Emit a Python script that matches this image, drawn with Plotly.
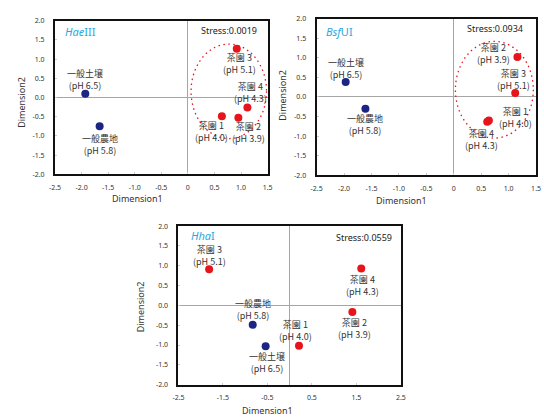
import plotly.graph_objects as go

# ---- data: NMDS coordinates per restriction enzyme ----
sites = ["茶園 1", "茶園 2", "茶園 3", "茶園 4", "一般土壌", "一般農地"]
site_ph = ["4.0", "3.9", "5.1", "4.3", "6.5", "5.8"]
is_tea = [True, True, True, True, False, False]

hae_x = [0.64, 0.95, 0.92, 1.12, -1.93, -1.66]
hae_y = [-0.49, -0.53, 1.27, -0.26, 0.10, -0.75]
hae_stress = "0.0019"
hae_ellipse = [0.06, 1.48, -1.07, 1.39]   # x0, x1, y0, y1

bsf_x = [0.64, 1.16, 1.12, 0.61, -1.97, -1.61]
bsf_y = [-0.60, 1.02, 0.10, -0.63, 0.38, -0.30]
bsf_stress = "0.0934"
bsf_ellipse = [0.03, 1.45, -1.05, 1.42]

hha_x = [0.21, 1.41, -1.81, 1.61, -0.54, -0.83]
hha_y = [-1.02, -0.17, 0.91, 0.93, -1.03, -0.49]
hha_stress = "0.0559"

y_ticks = [2.0, 1.5, 1.0, 0.5, 0.0, -0.5, -1.0, -1.5, -2.0]
y_ticktext = ["2.0", "1.5", "1.0", "0.5", "0.0", "-0.5", "-1.0", "-1.5", "-2.0"]
x_ticks_a = [-2.5, -2.0, -1.5, -1.0, -0.5, 0.0, 0.5, 1.0, 1.5]
x_ticktext_a = ["-2.5", "-2.0", "-1.5", "-1.0", "-0.5", "0", "0.5", "1.0", "1.5"]
x_ticks_b = [-2.5, -1.5, -0.5, 0.5, 1.5, 2.5]
x_ticktext_b = ["-2.5", "-1.5", "-0.5", "0.5", "1.5", "2.5"]

# ---- styling ----
RED = "#e8141c"
NAVY = "#1c2583"
BLUE_TITLE = "#2aa7e0"
TXT = "#333333"
JP_FONT = "Noto Sans CJK JP"

# label centre offset per site, in px from the marker: (dx, dy screen-down positive)
hae_lbl = [(-10, 15), (10, 15), (3, 14.5), (3, -14.5), (0, -14), (0, 18)]
bsf_lbl = [(27, -3), (-24, -3.5), (-2, -14), (-6, 18), (0, -14), (0, 16)]
hha_lbl = [(-3, -15.5), (2, 16), (0, -14), (1, 16.5), (1, 16), (0, -15)]

panels = [
    dict(name="<i>Hae</i>III", xs=hae_x, ys=hae_y, stress=hae_stress, ell=hae_ellipse,
         lbl=hae_lbl, xr=[-2.5, 1.5], xt=x_ticks_a, xtt=x_ticktext_a,
         dx=[50 / 544, 267 / 544], dy=[1 - 173 / 418, 1 - 16 / 418],
         tpos=(0.037, 0.93), spos=(0.958, 0.936), x1pos=(0.387, -0.16), y2pos=(-0.161, 0.47)),
    dict(name="<i>Bsf</i>UI", xs=bsf_x, ys=bsf_y, stress=bsf_stress, ell=bsf_ellipse,
         lbl=bsf_lbl, xr=[-2.5, 1.5], xt=x_ticks_a, xtt=x_ticktext_a,
         dx=[317 / 544, 541 / 544], dy=[1 - 174 / 418, 1 - 14 / 418],
         tpos=(0.036, 0.92), spos=(0.951, 0.94), x1pos=(0.388, -0.163), y2pos=(-0.156, 0.51)),
    dict(name="<i>Hha</i>I", xs=hha_x, ys=hha_y, stress=hha_stress, ell=None,
         lbl=hha_lbl, xr=[-2.5, 2.5], xt=x_ticks_b, xtt=x_ticktext_b,
         dx=[176 / 544, 403 / 544], dy=[1 - 388 / 418, 1 - 226 / 418],
         tpos=(0.048, 0.942), spos=(0.969, 0.93), x1pos=(0.40, -0.165), y2pos=(-0.167, 0.49)),
]

fig = go.Figure()
annotations = []
shapes = []
layout_axes = {}

for i, p in enumerate(panels):
    n = "" if i == 0 else str(i + 1)
    xa, ya = "x" + n, "y" + n
    colors = [RED if t else NAVY for t in is_tea]
    fig.add_trace(go.Scatter(
        x=p["xs"], y=p["ys"], mode="markers", xaxis=xa, yaxis=ya,
        marker=dict(size=8, color=colors, line=dict(width=0)),
        hoverinfo="skip", showlegend=False,
    ))
    axis_common = dict(
        showline=True, linecolor="#111111", linewidth=2, mirror=True,
        showgrid=False, zeroline=True, zerolinecolor="#a6a6a6", zerolinewidth=1.3,
        ticks="inside", ticklen=2, tickcolor="#cccccc", tickwidth=1,
        tickfont=dict(family="Noto Sans", size=7, color=TXT),
        fixedrange=True,
    )
    layout_axes["xaxis" + n] = dict(axis_common, domain=p["dx"], range=p["xr"],
                                    tickvals=p["xt"], ticktext=p["xtt"], anchor=ya,
                                    ticklabelstandoff=5)
    layout_axes["yaxis" + n] = dict(axis_common, domain=p["dy"], range=[-2.0, 2.0],
                                    tickvals=y_ticks, ticktext=y_ticktext, anchor=xa,
                                    ticklabelstandoff=7)

    # site labels: name with the pH beneath it
    for s, ph, x, y, (ox, oy) in zip(sites, site_ph, p["xs"], p["ys"], p["lbl"]):
        annotations.append(dict(
            x=x, y=y, xref=xa, yref=ya, text=f"{s}<br>(pH {ph})", showarrow=False,
            xanchor="center", yanchor="middle", xshift=ox, yshift=-oy,
            borderpad=0, align="center",
            font=dict(family=JP_FONT, size=9, color=TXT),
        ))
    # enzyme name and stress
    annotations.append(dict(
        x=p["tpos"][0], y=p["tpos"][1], xref=xa + " domain", yref=ya + " domain",
        text=p["name"], showarrow=False, xanchor="left", yanchor="middle",
        font=dict(family="Noto Sans", size=11, color=BLUE_TITLE),
    ))
    annotations.append(dict(
        x=p["spos"][0], y=p["spos"][1], xref=xa + " domain", yref=ya + " domain",
        text="Stress:" + p["stress"], showarrow=False, xanchor="right", yanchor="middle",
        font=dict(family="Noto Sans", size=9, color="#222222"),
    ))
    # axis titles
    annotations.append(dict(
        x=p["x1pos"][0], y=p["x1pos"][1], xref=xa + " domain", yref=ya + " domain",
        text="Dimension1", showarrow=False, xanchor="center", yanchor="middle",
        font=dict(family="Noto Sans", size=9, color=TXT),
    ))
    annotations.append(dict(
        x=p["y2pos"][0], y=p["y2pos"][1], xref=xa + " domain", yref=ya + " domain",
        text="Dimension2", showarrow=False, xanchor="center", yanchor="middle",
        textangle=-90, font=dict(family="Noto Sans", size=9, color=TXT),
    ))
    # tea-garden cluster ellipse
    if p["ell"] is not None:
        x0, x1, y0, y1 = p["ell"]
        shapes.append(dict(
            type="circle", xref=xa, yref=ya, x0=x0, x1=x1, y0=y0, y1=y1,
            line=dict(color=RED, width=1.3, dash="1.5px,3.5px"), layer="above",
        ))

fig.update_layout(
    width=544, height=418,
    margin=dict(l=0, r=0, t=0, b=0),
    paper_bgcolor="white", plot_bgcolor="white",
    annotations=annotations, shapes=shapes,
    **layout_axes,
)

fig.write_html("out.html")
